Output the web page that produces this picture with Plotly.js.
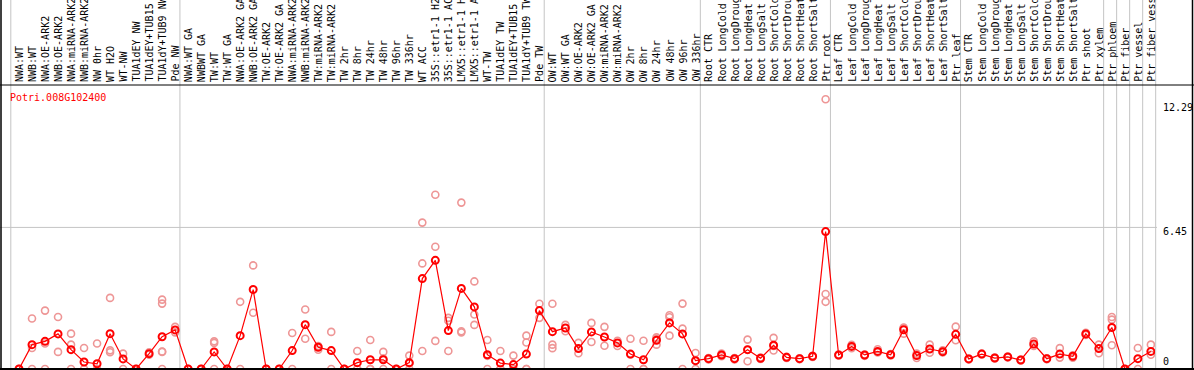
<!DOCTYPE html>
<html>
<head>
<meta charset="utf-8">
<script src="https://cdn.plot.ly/plotly-3.0.1.min.js"></script>
<style>html,body{margin:0;padding:0;background:#fff;}#chart{width:1194px;height:370px;}</style>
</head>
<body>
<div id="chart"></div>
<script>
const geneName = "Potri.008G102400";
const categories = ["NWA:WT","NWB:WT","NWA:OE-ARK2","NWB:OE-ARK2","NWA:miRNA-ARK2","NWB:miRNA-ARK2","NW 0hr","WT H2O","WT-NW","TUA1dEY NW","TUA1dEY+TUB15 NW","TUA1dY+TUB9 NW","Pde NW",
"NWA:WT GA","NWBWT GA","TW:WT","TW:WT GA","NWA:OE-ARK2 GA","NWB:OE-ARK2 GA","TW:OE-ARK2","TW:OE-ARK2 GA","NWA:miRNA-ARK2 GA","NWB:miRNA-ARK2 GA","TW:miRNA-ARK2","TW:miRNA-ARK2 GA",
"TW 2hr","TW 8hr","TW 24hr","TW 48hr","TW 96hr","TW 336hr","WT ACC","35S::etr1-1 H2O","35S::etr1-1 ACC","LMX5::etr1-1 H2O","LMX5::etr1-1 ACC","WT-TW","TUA1dEY TW","TUA1dEY+TUB15 TW","TUA1dY+TUB9 TW","Pde TW",
"OW:WT","OW:WT GA","OW:OE-ARK2","OW:OE-ARK2 GA","OW:miRNA-ARK2","OW:miRNA-ARK2 GA","OW 2hr","OW 8hr","OW 24hr","OW 48hr","OW 96hr","OW 336hr",
"Root CTR","Root LongCold","Root LongDrought","Root LongHeat","Root LongSalt","Root ShortCold","Root ShortDrought","Root ShortHeat","Root ShortSalt","Ptr root",
"Leaf CTR","Leaf LongCold","Leaf LongDrought","Leaf LongHeat","Leaf LongSalt","Leaf ShortCold","Leaf ShortDrought","Leaf ShortHeat","Leaf ShortSalt","Ptr leaf",
"Stem CTR","Stem LongCold","Stem LongDrought","Stem LongHeat","Stem LongSalt","Stem ShortCold","Stem ShortDrought","Stem ShortHeat","Stem ShortSalt","Ptr shoot",
"Ptr xylem","Ptr phloem","Ptr fiber","Ptr vessel","Ptr fiber vessel"];

const meanValues = [0,1.11,1.26,1.60,0.88,0.32,0.24,1.61,0.46,0,0.70,1.47,1.78,
0,0,0.78,0,1.52,3.62,0,0,0.84,2.02,0.99,0.84,
0,0.29,0.42,0.42,0,0.29,4.12,4.95,1.75,3.67,2.83,0.65,0.27,0.20,0.68,2.66,
1.70,1.87,0.93,1.69,1.46,1.19,0.68,0.42,1.31,2.10,1.60,0.38,
0.47,0.64,0.47,0.88,0.49,1.08,0.53,0.47,0.58,6.26,
0.64,1.03,0.64,0.80,0.65,1.79,0.61,0.91,0.79,1.58,
0.46,0.68,0.50,0.55,0.41,1.14,0.47,0.68,0.58,1.60,
0.93,1.89,0,0.47,0.80];

const rep1 = [0,2.30,2.66,2.37,1.61,0.96,1.16,3.24,0.70,0,0.76,3.16,1.92,
0,0,1.19,0,3.06,4.72,0,0,1.64,2.71,1.05,1.69,
0,0.82,1.32,0.78,0,0.61,6.67,7.94,2.33,7.58,3.99,1.32,0.82,0.61,1.52,2.97,
2.97,2.01,1.19,2.10,1.92,1.29,1.38,1.29,1.44,2.45,2.98,0.73,
0.50,0.70,0.50,1.34,0.52,1.42,0.56,0.49,0.60,12.29,
0.66,1.10,0.66,0.90,0.68,1.89,0.70,1.11,0.85,1.93,
0.48,0.70,0.52,0.57,0.43,1.26,0.49,0.95,0.62,1.65,
1.11,2.37,0,0.96,1.11];

const rep2 = [0,0.96,1.16,0.78,1.11,0,0,0.85,0,0,0.65,2.98,1.67,
0,0,1.26,0,0,2.56,0,0,0,1.38,0.88,0,
0,0,0,0.48,0,0.25,4.81,5.57,2.20,1.72,2.48,0.60,0,0,1.21,2.33,
1.11,1.72,0.72,1.23,1.06,1.05,0.66,0,1.11,2.36,1.84,0.38,
0.44,0.58,0.44,0.35,0.46,0.84,0.50,0.45,0.55,3.42,
0.62,0.95,0.60,0.75,0.62,1.61,0.50,0.74,0.75,1.31,
0.44,0.66,0.48,0.53,0.39,1.05,0.45,0.52,0.52,1.55,
0.72,2.25,0,0,0.65];

const rep3 = [null,0,0,null,0,null,null,0.76,null,null,null,0.80,null,
null,null,0,null,null,null,null,null,null,null,null,null,
null,0,0,0,null,0,0.82,1.28,0.82,1.67,2.01,0,0,0,0,null,
0.95,null,null,null,null,null,0,0,1.38,1.52,0,0,
null,null,null,0.88,null,1.05,null,null,null,3.06,
null,null,null,null,null,1.87,null,null,null,null,
null,null,null,null,null,null,null,null,null,null,
null,1.08,null,null,null];

const rep4 = [null,null,null,null,null,null,null,null,null,null,null,0.78,null,
null,null,null,null,null,null,null,null,null,null,null,null,
null,null,null,null,null,null,null,null,null,null,null,null,null,null,0,null,
null,null,null,null,null,null,null,null,null,null,null,null,
null,null,null,null,null,null,null,null,null,null,
null,null,null,null,null,null,null,null,null,null,
null,null,null,null,null,null,null,null,null,null,
null,null,null,null,null];

const rep5 = rep4.map((v, i) => (i === 11 ? 0 : null));

// group separators: after these category indices (-1 = before first)
const separatorsAfter = [-1, 12, 40, 52, 62, 72, 83, 84, 85, 86, 87];
const yTickValues = [0, 6.45, 12.29];
const yTickLabels = ["0", "6.45", "12.29"];

const idx = categories.map((c, i) => i);

// geometry
const L = 1, R = 39, T = 85, B = 1;
const PW = 1194 - L - R, PH = 370 - T - B;
const STEP = 13.01, X0PX = 19;
const PXPERUNIT = 21.95;
const X = px => (px - L) / PW;
const Y = py => (370 - B - py) / PH;
const idxToPx = k => X0PX + k * STEP;

const repColor = "rgb(238,150,150)";
const mono = "DejaVu Sans Mono, monospace";

const traces = [];
[rep1, rep2, rep3, rep4, rep5].forEach(r => {
  traces.push({
    x: idx, y: r, type: "scatter", mode: "markers",
    marker: {symbol: "circle-open", size: 7, color: repColor, line: {width: 1.6, color: repColor}},
    hoverinfo: "skip", showlegend: false
  });
});
traces.push({
  x: idx, y: meanValues, type: "scatter", mode: "lines+markers",
  line: {color: "#ff0000", width: 1.2},
  marker: {symbol: "circle-open", size: 7, color: "#ff0000", line: {width: 2, color: "#ff0000"}},
  hoverinfo: "skip", showlegend: false
});

const shapes = [];
// vertical separators
separatorsAfter.forEach(k => {
  const px = idxToPx(k + 0.37);
  shapes.push({type: "line", xref: "paper", yref: "paper", x0: X(px), x1: X(px), y0: Y(369), y1: Y(0),
    line: {color: "#c4c4c4", width: 1}, layer: "below"});
});
// horizontal line at middle tick
shapes.push({type: "line", xref: "paper", yref: "y", x0: X(0), x1: X(1157), y0: yTickValues[1], y1: yTickValues[1],
  line: {color: "#c4c4c4", width: 1}, layer: "below"});
// frame
shapes.push({type: "line", xref: "paper", yref: "paper", x0: X(0), x1: X(1194), y0: Y(85), y1: Y(85), line: {color: "#000", width: 1}});
shapes.push({type: "line", xref: "paper", yref: "paper", x0: X(0), x1: X(1194), y0: Y(369), y1: Y(369), line: {color: "#000", width: 2}});
shapes.push({type: "line", xref: "paper", yref: "paper", x0: X(1), x1: X(1), y0: Y(370), y1: Y(0), line: {color: "#000", width: 1.5}});
shapes.push({type: "line", xref: "paper", yref: "paper", x0: X(1192.5), x1: X(1192.5), y0: Y(370), y1: Y(0), line: {color: "#000", width: 1.5}});

const annotations = [];
categories.forEach((c, i) => {
  annotations.push({
    text: c, x: i, xref: "x", y: Y(83), yref: "paper", xanchor: "center", yanchor: "bottom",
    textangle: -90, showarrow: false, borderpad: 0,
    font: {family: mono, size: 10, color: "#000"}
  });
});
const tickCentersPx = [361.7, 231.7, 107.5];
yTickLabels.forEach((t, j) => {
  annotations.push({
    text: t, x: X(1161.5), xref: "paper", y: Y(tickCentersPx[j]), yref: "paper",
    xanchor: "left", yanchor: "middle", showarrow: false, borderpad: 0,
    font: {family: mono, size: 10, color: "#000"}
  });
});
annotations.push({
  text: geneName, x: X(9), xref: "paper", y: Y(97.5), yref: "paper",
  xanchor: "left", yanchor: "middle", showarrow: false, borderpad: 0,
  font: {family: mono, size: 10, color: "#ff0000"}
});

const layout = {
  width: 1194, height: 370,
  margin: {l: L, r: R, t: T, b: B, pad: 0},
  paper_bgcolor: "#fff", plot_bgcolor: "#fff",
  showlegend: false, hovermode: false,
  xaxis: {range: [(L - X0PX) / STEP, (L - X0PX) / STEP + PW / STEP], showgrid: false, zeroline: false,
    showticklabels: false, ticks: "", showline: false, fixedrange: true},
  yaxis: {range: [0, PH / PXPERUNIT], showgrid: false, zeroline: false, showticklabels: false,
    ticks: "", showline: false, fixedrange: true},
  shapes: shapes, annotations: annotations
};

Plotly.newPlot("chart", traces, layout, {displayModeBar: false, staticPlot: true});
</script>
</body>
</html>
